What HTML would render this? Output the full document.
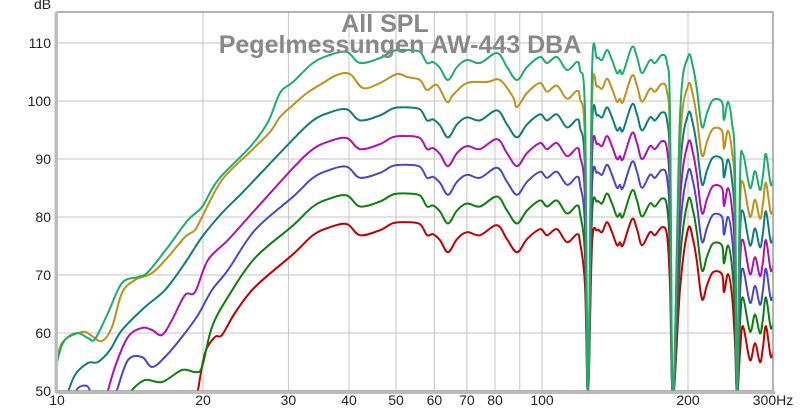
<!DOCTYPE html>
<html><head><meta charset="utf-8">
<style>
html,body{margin:0;padding:0;background:#fff;overflow:hidden;width:800px;height:410px;}
svg{display:block;font-family:"Liberation Sans","DejaVu Sans",sans-serif;overflow:hidden;}
</style></head>
<body>
<svg id="s" width="800" height="410" viewBox="0 0 800 410" xmlns="http://www.w3.org/2000/svg">
<defs><clipPath id="c"><rect x="58" y="12" width="715" height="379"/></clipPath></defs>
<rect x="0" y="0" width="800" height="410" fill="#fff"/>
<g id="grid" stroke="#c4c4c4" stroke-width="1"></g>
<g id="curves" clip-path="url(#c)" fill="none" stroke-width="2" stroke-linejoin="round"></g>
<rect x="57" y="12" width="716" height="379" fill="none" stroke="#9a9a9a" stroke-width="1.5"/>
<line x1="56" y1="12" x2="56" y2="393" stroke="#bbb" stroke-width="3"/>
<line x1="56" y1="392.5" x2="775" y2="392.5" stroke="#bbb" stroke-width="3"/>
<g id="labels" font-size="14" fill="#222"></g>
<text x="385" y="32" font-size="25" font-weight="bold" fill="#888" text-anchor="middle">All SPL</text>
<text x="400" y="53" font-size="25" font-weight="bold" fill="#888" text-anchor="middle">Pegelmessungen AW-443 DBA</text>
<text x="34" y="9" font-size="14" fill="#222">dB</text>
</svg>
<script>
var NS="http://www.w3.org/2000/svg";
function el(t,a,p,txt){var e=document.createElementNS(NS,t);for(var k in a)e.setAttribute(k,a[k]);if(txt!==undefined)e.textContent=txt;p.appendChild(e);return e;}
var g=document.getElementById('grid'),lb=document.getElementById('labels'),cv=document.getElementById('curves');
function fx(f){return 57+485*(Math.log10(f)-1);}
function dy(d){return 391-(d-50)*5.8;}
[20,30,40,50,60,70,80,90,100,200].forEach(function(f){var x=fx(f);el('line',{x1:x,y1:12,x2:x,y2:391},g);});
for(var d=60;d<=110;d+=10){el('line',{x1:57,y1:dy(d),x2:773,y2:dy(d)},g);}
for(var d=50;d<=110;d+=10){el('text',{x:51,y:dy(d)+5,'text-anchor':'end'},lb,''+d);}
[[10,'10'],[20,'20'],[30,'30'],[40,'40'],[50,'50'],[60,'60'],[70,'70'],[80,'80'],[100,'100'],[200,'200']].forEach(function(a){el('text',{x:fx(a[0]),y:405,'text-anchor':'middle'},lb,a[1]);});
el('text',{x:773,y:405,'text-anchor':'middle'},lb,'300Hz');

var topc=[[57,362],[62,345],[68,337],[78,333],[88,338],[95,339],[108,313],[122,283],[138,277],[148,272],[168,247],[188,220],[202,207],[218,180],[250,147],[268,122],[280,93],[293,82],[313,63],[330,55],[347,52],[360,63],[380,58],[393,51],[407,50],[420,52],[427,63],[433,62],[440,68],[448,80],[457,67],[467,60],[480,63],[497,53],[507,67],[517,80],[527,67],[540,57],[547,63],[557,57],[567,70],[577,62],[580,70],[585,113],[588,398],[592,73],[597,58],[602,60],[607,50],[612,60],[617,73],[620,70],[623,73],[632,47],[637,57],[642,73],[650,60],[655,63],[662,55],[667,63],[670,113],[673,398],[680,117],[688,57],[693,67],[697,90],[702,127],[707,113],[713,100],[722,102],[724,120],[728,102],[732,123],[735,170],[737,398],[740,180],[743,154],[750,188],[755,171],[760,190],[763,175],[766,154],[771,185],[775,170]];
var low={
5:[[55,370],[62,343],[82,332],[92,336],[102,341],[112,327],[122,293],[135,280],[152,273],[168,257],[185,237],[195,230],[202,217],[222,180],[250,152],[270,132],[280,117],[293,105],[307,93],[323,83],[337,75],[350,74],[363,88],[380,83],[397,74],[407,77],[420,80],[427,90],[437,85],[447,102],[453,95],[467,83],[487,82],[500,80],[513,97],[517,107],[527,93],[540,83]],
4:[[66,398],[75,375],[88,363],[98,362],[110,350],[122,330],[145,307],[165,290],[185,263],[202,237],[222,213],[242,193],[262,172]],
3:[[106,398],[115,367],[128,337],[142,328],[152,330],[162,335],[172,320],[185,295],[195,292],[208,260],[228,240],[255,210]],
2:[[74,398],[78,388],[87,386],[94,395],[114,398],[117,390],[128,360],[142,357],[152,367],[165,357],[182,337],[198,315],[212,290],[228,270],[255,230]],
1:[[128,398],[132,390],[145,380],[162,382],[182,370],[195,372],[202,367],[212,327],[228,297],[255,258]],
0:[[196,398],[198,390],[205,353],[215,337],[222,335],[235,313],[255,287]]
};
var cols=['#c00000','#0a800a','#4848c4','#b010b0','#0e7c7c','#c09018','#1aae6c'];
var step=28.7;
function build(k){
  if(k==6)return topc;
  var off=step*(6-k),L=low[k],endx=L[L.length-1][0],pts=L.slice();
  var startx=(k==5)?endx+6:290;
  topc.forEach(function(p){if(p[0]>=startx)pts.push([p[0],Math.min(398,p[1]+off)]);});
  return pts;
}
function smooth(p){
  var d='M'+p[0][0]+','+p[0][1].toFixed(1);
  for(var i=0;i<p.length-1;i++){
    var p0=p[i-1]||p[i],p1=p[i],p2=p[i+1],p3=p[i+2]||p2;
    var t=0.17;
    var c1x=p1[0]+(p2[0]-p0[0])*t,c1y=p1[1]+(p2[1]-p0[1])*t;
    var c2x=p2[0]-(p3[0]-p1[0])*t,c2y=p2[1]-(p3[1]-p1[1])*t;
    c1x=Math.min(Math.max(c1x,p1[0]),p2[0]);c2x=Math.min(Math.max(c2x,p1[0]),p2[0]);
    c1y=Math.min(c1y,398);c2y=Math.min(c2y,398);
    d+=' C'+c1x.toFixed(1)+','+c1y.toFixed(1)+' '+c2x.toFixed(1)+','+c2y.toFixed(1)+' '+p2[0]+','+p2[1].toFixed(1);
  }
  return d;
}
for(var k=0;k<7;k++){
  el('path',{d:smooth(build(k)),stroke:cols[k]},cv);
}
</script>
</body></html>
